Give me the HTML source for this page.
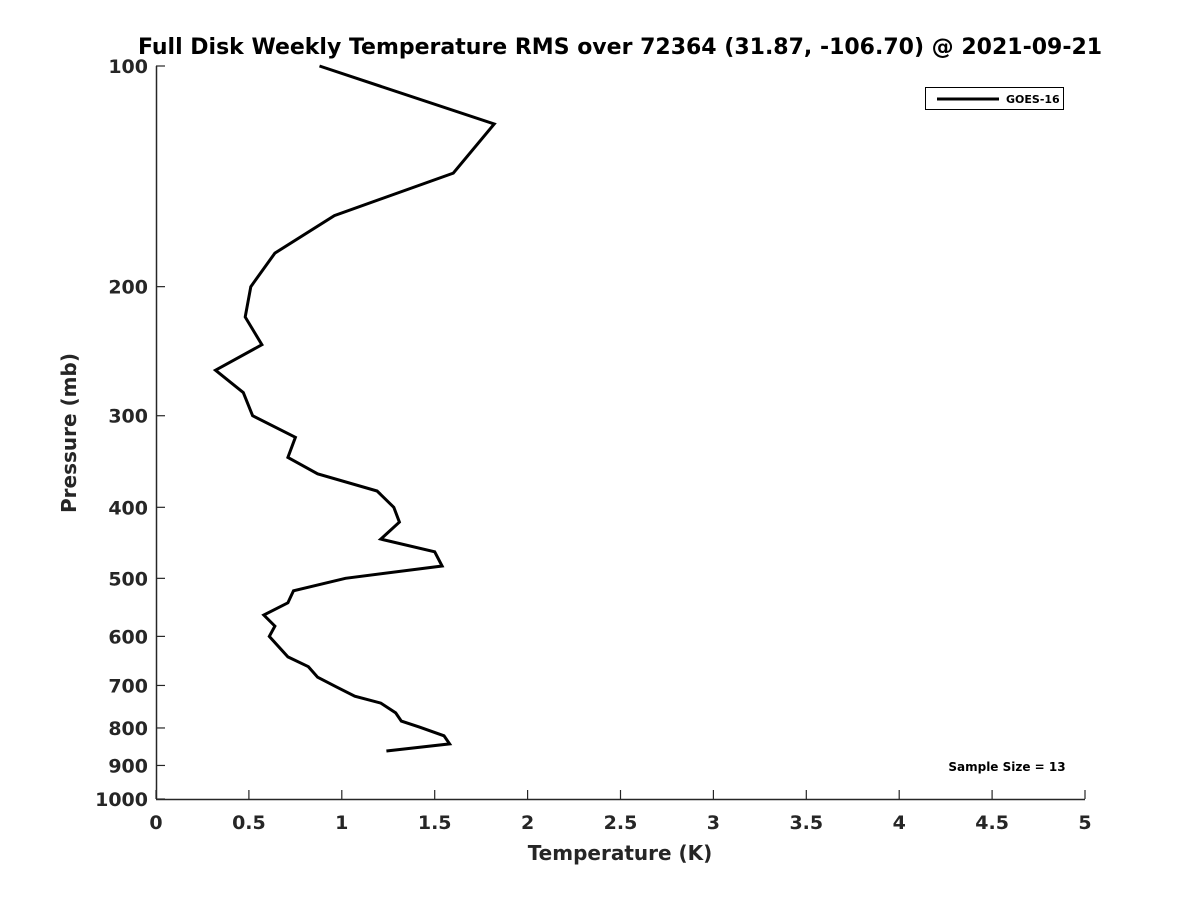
<!DOCTYPE html>
<html><head><meta charset="utf-8"><style>
body{margin:0;background:#fff;}
svg text{font-family:"DejaVu Sans","Liberation Sans",sans-serif;font-weight:bold;fill:#262626;}
</style></head><body>
<svg id="chart" width="1200" height="900" xmlns="http://www.w3.org/2000/svg">
<text x="620" y="54" font-size="22" text-anchor="middle" fill="#000" style="fill:#000">Full Disk Weekly Temperature RMS over 72364 (31.87, -106.70) @ 2021-09-21</text>
<g id="axes"></g>
<text x="620" y="860" font-size="20" text-anchor="middle">Temperature (K)</text>
<text transform="translate(76,433) rotate(-90)" font-size="20" text-anchor="middle">Pressure (mb)</text>
<g>
<rect x="925.5" y="87.5" width="138" height="22" fill="#fff" stroke="#000" stroke-width="1"/>
<line x1="937" y1="99" x2="999" y2="99" stroke="#000" stroke-width="3"/>
<text x="1006" y="103" font-size="11" style="fill:#000">GOES-16</text>
</g>
<text x="1007" y="771" font-size="12" text-anchor="middle" style="fill:#000">Sample Size = 13</text>
</svg>
<script>
const temps=[0.88,1.82,1.60,0.96,0.64,0.51,0.48,0.57,0.32,0.47,0.52,0.75,0.71,0.87,1.19,1.28,1.31,1.21,1.50,1.54,1.02,0.74,0.71,0.58,0.64,0.61,0.71,0.82,0.87,0.97,1.07,1.21,1.29,1.32,1.42,1.55,1.58,1.24];
const pressures=[100,120,140,160,180,200,220,240,260,279,300,321,342,360,380,400,419,442,460,481,500,520,540,561,581,600,640,660,682,703,724,740,763,783,798,820,841,860];
const xTicks=[0,0.5,1,1.5,2,2.5,3,3.5,4,4.5,5];
const xTickLabels=["0","0.5","1","1.5","2","2.5","3","3.5","4","4.5","5"];
const yTicks=[100,200,300,400,500,600,700,800,900,1000];
const yTickLabels=["100","200","300","400","500","600","700","800","900","1000"];
const X0=156,X1=1085,Y0=66,Y1=799;
function xs(v){return X0+(v-0)/5*(X1-X0);}
function ys(p){return Y0+(Math.log10(p)-2)*(Y1-Y0);}
const NS="http://www.w3.org/2000/svg";
const svg=document.getElementById('chart');
const ax=document.getElementById('axes');
function mk(t,a,parent){const e=document.createElementNS(NS,t);for(const k in a)e.setAttribute(k,a[k]);(parent||ax).appendChild(e);return e;}
const xl=mk('line',{x1:X0,y1:Y1+0.5,x2:X1,y2:Y1+0.5,stroke:'#262626','stroke-width':1.5});


const yl=mk('line',{x1:X0+0.5,y1:Y0,x2:X0+0.5,y2:Y1,stroke:'#262626','stroke-width':1.5});


xTicks.forEach((v,i)=>{
 const x=xs(v);
 const t=mk('line',{x1:x,y1:Y1,x2:x,y2:Y1-9,stroke:'#262626','stroke-width':1.2});
 
 
 const l=mk('text',{x:x,y:Y1+30,'font-size':19,'text-anchor':'middle'});
 l.textContent=xTickLabels[i];
 
 
});
yTicks.forEach((v,i)=>{
 const y=ys(v);
 const t=mk('line',{x1:X0,y1:y,x2:X0+9,y2:y,stroke:'#262626','stroke-width':1.2});
 
 
 const l=mk('text',{x:X0-8,y:y+7,'font-size':19,'text-anchor':'end'});
 l.textContent=yTickLabels[i];
 
 
});
const pts=temps.map((t,i)=>xs(t).toFixed(1)+','+ys(pressures[i]).toFixed(1)).join(' ');
const pl=mk('polyline',{points:pts,fill:'none',stroke:'#000','stroke-width':3,'stroke-linejoin':'miter'},svg);


</script>
</body></html>
